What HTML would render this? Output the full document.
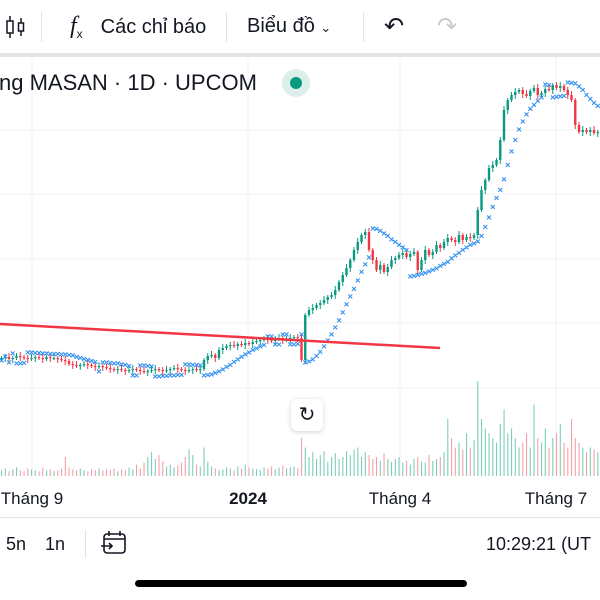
<!DOCTYPE html>
<html><head><meta charset="utf-8"><style>
body{margin:0;width:600px;height:600px;overflow:hidden;background:#fff;font-family:"Liberation Sans",sans-serif;position:relative}
.a{position:absolute}
</style></head><body>
<div class="a" style="left:0;top:0;width:600px;height:53px;background:#fff;border-bottom:4px solid #e3e4e8"></div>
<svg class="a" style="left:4px;top:14px" width="22" height="26"><line x1="6" y1="2" x2="6" y2="24" stroke="#131722" stroke-width="1.5"/><rect x="3" y="7" width="6" height="12" fill="#fff" stroke="#131722" stroke-width="1.5"/><line x1="17" y1="4" x2="17" y2="22" stroke="#131722" stroke-width="1.5"/><rect x="14.5" y="9" width="5" height="8" fill="#fff" stroke="#131722" stroke-width="1.5"/></svg>
<div class="a" style="left:41px;top:12px;width:1px;height:30px;background:#e0e3eb"></div>
<div class="a" style="left:70px;top:13px;font-size:20px;color:#131722;white-space:nowrap"><span style="font-family:'Liberation Serif',serif;font-style:italic;font-size:24px">f</span><sub style="font-size:12px">x</sub><span style="margin-left:18px">Các chỉ báo</span></div>
<div class="a" style="left:226px;top:12px;width:1px;height:30px;background:#e0e3eb"></div>
<div class="a" style="left:247px;top:15px;font-size:20px;color:#131722">Biểu đồ <span style="font-size:13px">&#8964;</span></div>
<div class="a" style="left:363px;top:12px;width:1px;height:30px;background:#e0e3eb"></div>
<div class="a" style="left:384px;top:12px;font-size:24px;color:#131722">&#8630;</div>
<div class="a" style="left:437px;top:12px;font-size:24px;color:#c8cad0">&#8631;</div>

<svg class="a" id="ch" style="left:0;top:57px" width="600" height="460" viewBox="0 57 600 460"></svg>

<div class="a" style="left:-1px;top:70px;font-size:22px;color:#131722;white-space:nowrap">ng MASAN · 1D · UPCOM</div>
<div class="a" style="left:282px;top:69px;width:28px;height:28px;border-radius:50%;background:#dcefea"><div style="margin:8px;width:12px;height:12px;border-radius:50%;background:#089981"></div></div>
<div class="a" style="left:291px;top:399px;width:32px;height:32px;border-radius:6px;background:#fff;box-shadow:0 1px 5px rgba(0,0,0,.18);font-size:20px;text-align:center;line-height:32px;color:#131722">&#8635;</div>

<div class="a" style="left:0;top:517px;width:600px;height:1px;background:#e0e3eb"></div>
<div class="a" style="left:6px;top:534px;font-size:18px;color:#131722">5n</div>
<div class="a" style="left:45px;top:534px;font-size:18px;color:#131722">1n</div>
<div class="a" style="left:85px;top:530px;width:1px;height:28px;background:#e0e3eb"></div>
<svg class="a" style="left:100px;top:529px" width="28" height="28"><rect x="4" y="5" width="21" height="19" rx="3" fill="none" stroke="#131722" stroke-width="1.6"/><line x1="4" y1="10" x2="25" y2="10" stroke="#131722" stroke-width="1.6"/><line x1="9" y1="2" x2="9" y2="7" stroke="#131722" stroke-width="1.6"/><line x1="20" y1="2" x2="20" y2="7" stroke="#131722" stroke-width="1.6"/><path d="M1 17h11m-3-3l3 3-3 3" fill="none" stroke="#131722" stroke-width="1.6"/></svg>
<div class="a" style="left:486px;top:534px;font-size:18px;color:#131722;white-space:nowrap">10:29:21 (UT</div>
<div class="a" style="left:135px;top:580px;width:332px;height:7px;border-radius:4px;background:#000"></div>

<script>
const closes=[42,43,41,42,44,43,42,41,42,43,42,41,43,42,42,41,40,39,
36,35,34,35,36,35,34,33,34,33,
32,31,30,31,30,29,30,31,30,29,28,29,30,31,30,29,30,31,32,31,30,29,30,31,30,31,
40,44,45,42,
50,52,54,55,54,56,55,57,56,
58,59,60,61,60,59,61,62,60,61,62,63,62,
40,
85,90,92,95,97,100,103,105,
110,118,125,132,140,150,158,165,168,
150,140,130,135,128,133,
140,142,145,147,143,146,148,130,140,150,145,148,
155,152,158,162,160,158,165,160,163,162,165,
190,210,220,232,235,
240,260,290,300,305,
308,310,306,304,309,312,305,307,311,310,315,312,314,310,305,
300,275,268,270,268,270,267,268];
const volumes=[6,8,5,7,9,6,5,8,7,6,5,9,6,7,5,6,8,20,
9,7,6,8,6,5,7,6,8,6,
7,6,8,5,7,6,9,7,12,8,14,20,25,18,22,16,10,12,9,11,14,20,28,22,12,10,
30,15,10,8,
6,7,9,8,6,10,8,12,9,
8,7,6,9,8,10,7,9,11,8,9,10,8,
40,
30,20,25,18,22,26,15,20,
24,18,20,26,22,28,30,20,25,
22,18,20,16,24,18,
15,18,20,14,16,12,18,20,15,14,22,16,
18,20,25,60,40,30,35,28,45,30,38,
100,60,50,45,40,
35,55,70,45,50,
40,30,35,45,30,75,40,35,50,30,40,45,55,35,30,
60,40,35,30,25,30,28,25];
const xLabels=[{t:"Tháng 9",x:32,b:false},{t:"2024",x:248,b:true},{t:"Tháng 4",x:400,b:false},{t:"Tháng 7",x:556,b:false}];
const svg=document.getElementById('ch');const NS='http://www.w3.org/2000/svg';
function el(t,a,p){const e=document.createElementNS(NS,t);for(const k in a)e.setAttribute(k,a[k]);(p||svg).appendChild(e);return e;}
const step=3.75;
const xS=i=>1.5+i*step;
const yS=p=>400-p;
const volBase=476;const vS=v=>v*0.95;
[130,194,259,323,388].forEach(y=>{const g=el('line',{x1:0,x2:600,y1:y,y2:y,stroke:'#f0f1f4','stroke-width':1});});
xLabels.forEach(l=>{const g=el('line',{x1:l.x,x2:l.x,y1:57,y2:476,stroke:'#f0f1f4','stroke-width':1});});
closes.forEach((c,i)=>{const o=i?closes[i-1]:c;const up=c>=o;const h=vS(volumes[i]);
const r=el('rect',{x:xS(i)-0.5,y:volBase-h,width:1.1,height:h,fill:up?'#7ccdb9':'#f5a0a6'});
});
const highs=[],lows=[];
closes.forEach((c,i)=>{const o=i?closes[i-1]:c;const up=c>=o;const col=up?'#089981':'#f23645';
const hi=Math.max(o,c)+2+(i%3),lo=Math.min(o,c)-2-(i%2)*2;highs.push(hi);lows.push(lo);
const w=el('line',{x1:xS(i),x2:xS(i),y1:yS(hi),y2:yS(lo),stroke:col,'stroke-width':1});

const b=el('rect',{x:xS(i)-1.2,y:yS(Math.max(o,c)),width:2.4,height:Math.max(1.2,Math.abs(c-o)),fill:col});
});
let upT=true,sar=lows[0],ep=highs[0],af=0.02;const sars=[];
for(let i=0;i<closes.length;i++){
 if(i>0){sar=sar+af*(ep-sar);
  if(upT){if(lows[i]<sar){upT=false;sar=ep;ep=lows[i];af=0.02;}else if(highs[i]>ep){ep=highs[i];af=Math.min(0.2,af+0.02);}}
  else{if(highs[i]>sar){upT=true;sar=ep;ep=highs[i];af=0.02;}else if(lows[i]<ep){ep=lows[i];af=Math.min(0.2,af+0.02);}}}
 sars.push(sar);}
sars.forEach((s,i)=>{const t=el('text',{x:xS(i),y:yS(s)+3.5,'font-size':9.5,'font-weight':'bold',fill:'#2f8ef0','text-anchor':'middle','font-family':'Liberation Sans'});t.textContent='×';
});
const tl=el('line',{x1:0,y1:324,x2:440,y2:348,stroke:'#f23645','stroke-width':2.5});

xLabels.forEach(l=>{const t=el('text',{x:l.x,y:504,'font-size':17,'font-weight':l.b?'bold':'normal',fill:'#131722','text-anchor':'middle','font-family':'Liberation Sans'});t.textContent=l.t;
});
</script>
</body></html>
